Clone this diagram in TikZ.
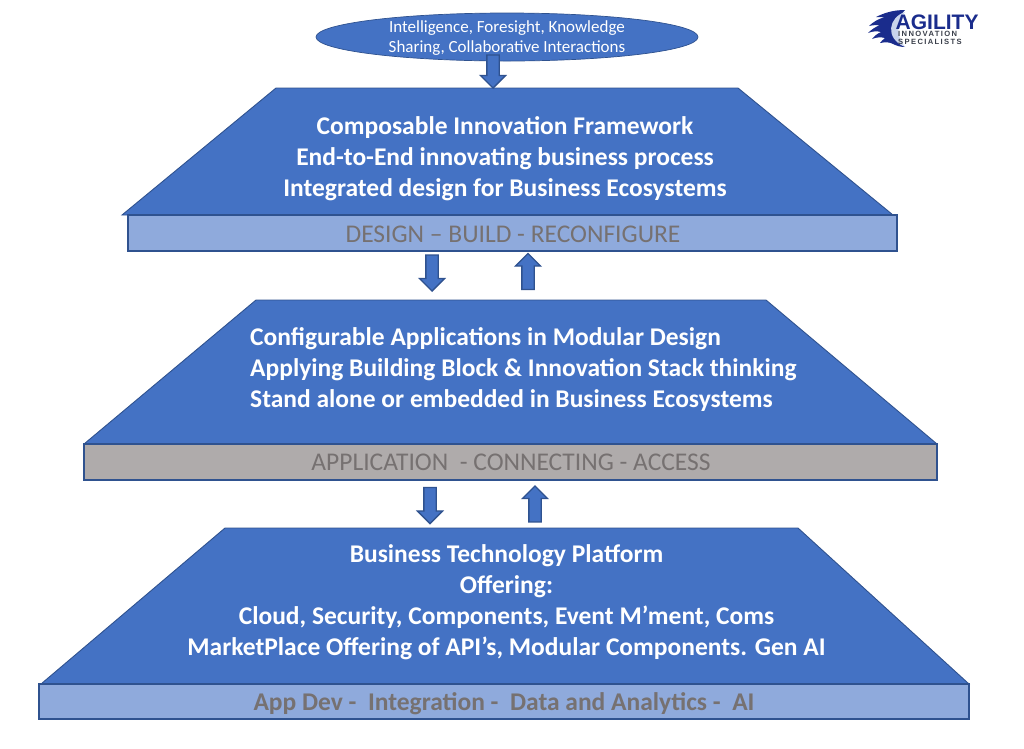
\documentclass[tikz,border=0pt]{standalone}
\usepackage{fontspec}
\setmainfont{Carlito}
\newfontfamily\logofont[LetterSpace=0]{Liberation Sans}
\newfontfamily\logospaced[LetterSpace=18]{Liberation Sans}
\usetikzlibrary{shapes.geometric,shapes.arrows}
\definecolor{tierblue}{HTML}{4472C4}
\definecolor{tieredge}{HTML}{2F528F}
\definecolor{barblue}{HTML}{8FAADC}
\definecolor{bargrey}{HTML}{AFABAB}
\definecolor{labelgrey}{HTML}{767171}
\definecolor{logonavy}{HTML}{1A2C8C}
\definecolor{logogrey}{HTML}{3A3F4A}
\definecolor{logopale}{HTML}{C9D4EC}
\tikzset{
  x=1pt,y=-1pt,
  tier/.style={fill=tierblue,draw=tieredge,line width=0.9pt,line join=miter},
  barbox/.style={rectangle,draw=tieredge,line width=1.7pt,inner sep=0pt,outer sep=0pt,anchor=north west},
  tiertext/.style={text=white,font=\fontsize{25.5}{31}\selectfont\bfseries,inner sep=0pt},
  barlabel/.style={text=labelgrey,font=\fontsize{25.5}{29}\selectfont,inner sep=0pt},
  flow/.style={single arrow,fill=tierblue,draw=tieredge,line width=1.3pt,inner xsep=0pt,inner ysep=5.5pt,
    minimum height=36pt,single arrow head extend=6.5pt,
    single arrow tip angle=90},
  flame/.style={fill=logonavy,draw=none}
}
\begin{document}
\begin{tikzpicture}
\useasboundingbox (0,0) rectangle (1024,748);

% Source ellipse
\node[ellipse,fill=tierblue,draw=tieredge,line width=0.7pt,minimum width=382pt,minimum height=48pt,inner sep=0pt] (source) at (507,37) {};
\node[text=white,align=center,inner sep=0pt,font=\fontsize{17}{20}\selectfont] (sourcetext) at (507,38)
  {Intelligence, Foresight, Knowledge\\Sharing, Collaborative Interactions};

% Top tier
\draw[tier] (276,88) -- (738,88) -- (893,215) -- (122,215) -- cycle;
\node[tiertext,align=center] (toptext) at (505,158.7)
  {Composable Innovation Framework\\End-to-End innovating business process\\Integrated design for Business Ecosystems};
\node[barbox,fill=barblue,minimum width=769pt,minimum height=36pt] (topbar) at (128,215) {};
\node[barlabel] (toplabel) at (513,234.5) {DESIGN – BUILD - RECONFIGURE};

% Middle tier
\draw[tier] (256,300) -- (766,300) -- (937,444) -- (84,444) -- cycle;
\node[tiertext,align=left,anchor=west] (midtext) at (250,369.3)
  {Configurable Applications in Modular Design\\Applying Building Block \& Innovation Stack thinking\\Stand alone or embedded in Business Ecosystems};
\node[barbox,fill=bargrey,minimum width=853pt,minimum height=36pt] (midbar) at (84,444) {};
\node[barlabel] (midlabel) at (511,462.5) {APPLICATION\ \ - CONNECTING - ACCESS};

% Bottom tier
\draw[tier] (225,528) -- (798,528) -- (969,684) -- (41,684) -- cycle;
\node[tiertext,align=center] (bottext) at (506.5,602)
  {Business Technology Platform\\Offering:\\Cloud, Security, Components, Event M’ment, Coms\\MarketPlace Offering of API’s, Modular Components. Gen AI};
\node[barbox,fill=barblue,minimum width=930pt,minimum height=35pt] (botbar) at (39,684) {};
\node[barlabel,font=\fontsize{25.5}{29}\selectfont\bfseries] (botlabel) at (504,703.5) {App Dev -\ \ Integration -\ \ Data and Analytics -\ \ AI};

% Block arrows between the layers
\node[flow,rotate=-90,minimum height=33pt] (feed) at (493,68.5) {};
\node[flow,rotate=-90] (downA) at (432,270) {};
\node[flow,rotate=90] (upA) at (528,274.5) {};
\node[flow,rotate=-90] (downB) at (430,502.5) {};
\node[flow,rotate=90] (upB) at (535,507) {};

% Company mark: flames, pale crescent and lettering
\fill[flame] (905,10) .. controls (893,10) and (884,13) .. (876,17)
  .. controls (880,17) and (882,17) .. (885,17)
  .. controls (878,19) and (873,22) .. (869,26)
  .. controls (873,25) and (877,25) .. (880,25)
  .. controls (875,27) and (871,30) .. (868,33)
  .. controls (873,31) and (877,31) .. (881,32)
  .. controls (877,34) and (874,36) .. (872,39)
  .. controls (877,37) and (881,37) .. (885,38)
  .. controls (883,40) and (881,41) .. (880,43)
  .. controls (885,42) and (890,42) .. (893,44)
  .. controls (897,46) and (901,47) .. (905,47)
  .. controls (893,42) and (887,30) .. (905,10) -- cycle;
\fill[logopale] (905,12) .. controls (889,17) and (884,38) .. (905,47)
  .. controls (897,38) and (895,22) .. (905,12) -- cycle;
\node[inner sep=0pt,anchor=base west,text=logonavy,text depth=0pt] (logoname) at (895.5,29)
  {\logofont\fontsize{21}{21}\selectfont\bfseries AGILITY};
\node[inner sep=0pt,anchor=base west,text=logogrey,text depth=0pt,text height=5.5pt] (logoline) at (898,36.8)
  {\logospaced\fontsize{7.6}{8}\selectfont\bfseries INNOVATION};
\node[inner sep=0pt,anchor=base west,text=logogrey,text depth=0pt,text height=5.5pt] (logolinetwo) at (898,44.8)
  {\logospaced\fontsize{7.6}{8}\selectfont\bfseries SPECIALISTS};
\end{tikzpicture}
\end{document}
